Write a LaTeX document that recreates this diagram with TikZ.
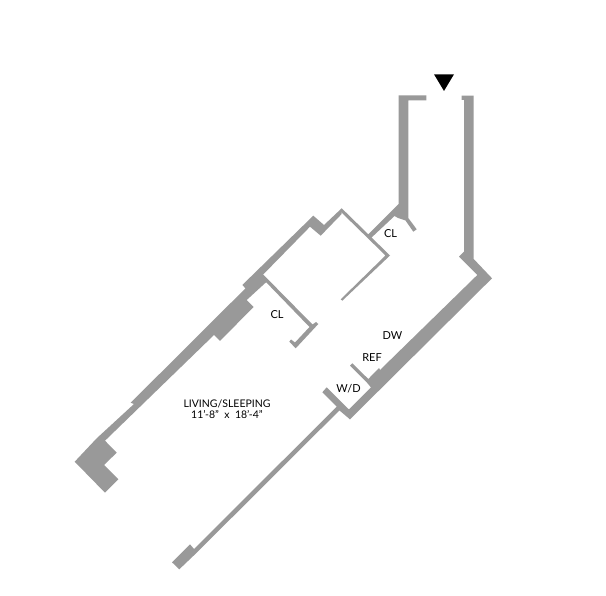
\documentclass[tikz,border=0pt]{standalone}
\usepackage{fontspec}
\setmainfont{Lato}
\definecolor{wallgrey}{HTML}{999999}
\tikzset{
  wall/.style={fill=wallgrey,draw=none},
  room/.style={font=\fontsize{11}{12}\selectfont,text=black,inner sep=0pt,align=center},
  roomlong/.style={font=\fontsize{10.5}{12}\selectfont,text=black,inner sep=0pt,align=center}
}
\begin{document}
\begin{tikzpicture}[x=1pt,y=-1pt]
\useasboundingbox (0,0) rectangle (606,596);
\fill[white] (0,0) rectangle (606,596);
% entry arrow
\fill[black] (434,74.3) -- (454,74.3) -- (444,91) -- cycle;
% entry left wall, with closet wall and door stub
\fill[wall] (398.7,95.3) -- (426.3,95.3) -- (426.3,100.3) -- (408.3,100.3) -- (408.3,218) -- (416.7,229.3) -- (413.3,231.7) -- (405.5,220.5) -- (398,218) -- (394.5,216) -- (370.5,238.5) -- (368,234.5) -- (398.7,204) -- cycle;
% entry right wall, thick kitchen wall, REF stub, thin wall to the W/D corner
\fill[wall] (461.7,95.7) -- (473.7,95.7) -- (473.7,259) -- (492,278.3) -- (350,419.3) -- (343,412.5) -- (348.3,410) -- (371,387.5) -- (366.7,382.3) -- (350,365.7) -- (352.3,363.3) -- (368.3,379) -- (379,368) -- (380,370) -- (477.3,275) -- (459,256.7) -- (464,251.7) -- (464,100) -- (461.7,100) -- cycle;
% W/D stub and long wall with end block
\fill[wall] (326.7,387.3) -- (349,409.5) -- (350,419.3) -- (339.4,410.4) -- (196.7,552.7) -- (179.3,569.3) -- (172,562.3) -- (190,544.3) -- (194,549) -- (336.7,406.7) -- (322.3,392.3) -- cycle;
% left wall
\fill[wall] (341.7,208.3) -- (341.7,214) -- (320.7,235.7) -- (310,226.7) -- (262.7,275) -- (266.7,281.7) -- (246.7,300) -- (253.5,307) -- (220,341) -- (214,335) -- (105,440.7) -- (116.7,452.7) -- (104,465) -- (118.3,479.3) -- (105,492.7) -- (74.7,461.7) -- (96.7,438.3) -- (134,404) -- (130.7,402.7) -- (245.5,288.3) -- (242.3,285) -- (313.3,215.7) -- (324,225) -- cycle;
% closet walls
\fill[wall] (341.7,208.3) -- (390,255.5) -- (342.3,300.7) -- (340.7,299.3) -- (385.5,255.5) -- (340,211) -- cycle;
\fill[wall] (262.7,274) -- (312.5,324.5) -- (316,322) -- (318.3,324) -- (295.7,348.3) -- (289.3,341.7) -- (291,339.5) -- (295,342.5) -- (309.5,327) -- (263,279) -- cycle;
% labels
\node[room] (clA) at (390.5,234) {CL};
\node[room] (clB) at (277,314.5) {CL};
\node[room] (dw) at (392.5,336) {DW};
\node[room] (ref) at (372,357.5) {REF};
\node[room] (wd) at (348.5,388.5) {W/D};
\node[roomlong] (living) at (227,409) {LIVING/SLEEPING\\[-1pt]11'-8"\ \ x\ \ 18'-4"};
\end{tikzpicture}
\end{document}
